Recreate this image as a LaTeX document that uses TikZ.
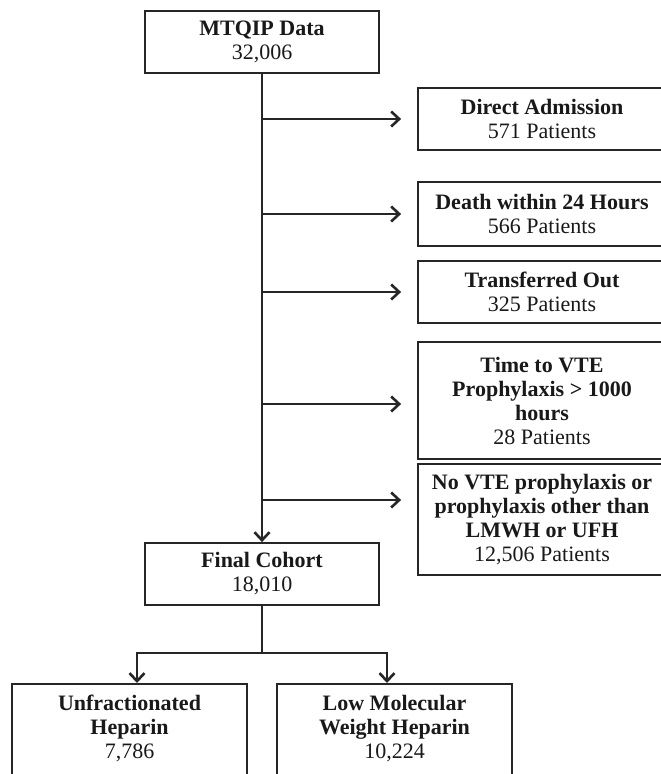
\documentclass[tikz,border=0pt]{standalone}
\usepackage{fontspec}
\setmainfont{Liberation Serif}
\usetikzlibrary{arrows.meta}
\begin{document}
\begin{tikzpicture}[x=1pt,y=-1pt,
  box/.style={draw=black!85, line width=1.8pt, align=center, text=black!90,
    font=\fontsize{22}{24}\selectfont, inner sep=0pt},
  conn/.style={line width=1.8pt, draw=black!85},
  arr/.style={conn, -{Straight Barb[length=8pt,width=15pt,line width=2.6pt]}},
  sidearr/.style={arr, shorten >=16pt}]
\fill[white] (0,0) rectangle (661,774);
\clip (0,0) rectangle (661,774);

\node[box, minimum width=234pt, minimum height=62pt] (mtqip) at (262,42)
  {\textbf{MTQIP Data}\\32,006};

\node[box, minimum width=248pt, minimum height=62pt] (da) at (542,119)
  {\textbf{Direct Admission}\\571 Patients};
\node[box, minimum width=248pt, minimum height=64pt] (death) at (542,214)
  {\textbf{Death within 24 Hours}\\566 Patients};
\node[box, minimum width=248pt, minimum height=62pt] (trans) at (542,292)
  {\textbf{Transferred Out}\\325 Patients};
\node[box, minimum width=248pt, minimum height=117pt] (time) at (542,400.5)
  {\textbf{Time to VTE}\\\textbf{Prophylaxis > 1000}\\\textbf{hours}\\28 Patients};
\node[box, minimum width=248pt, minimum height=111pt] (novte) at (542,519.5)
  {\textbf{No VTE prophylaxis or}\\\textbf{prophylaxis other than}\\\textbf{LMWH or UFH}\\12,506 Patients};

\node[box, minimum width=234pt, minimum height=62pt] (final) at (262,574)
  {\textbf{Final Cohort}\\18,010};

\node[box, minimum width=235pt, anchor=north, inner ysep=12pt, text height=63pt, text depth=100pt] (ufh) at (129.5,683)
  {\textbf{Unfractionated}\\\textbf{Heparin}\\7,786};
\node[box, minimum width=235pt, anchor=north, inner ysep=12pt, text height=63pt, text depth=100pt] (lmwh) at (394.5,683)
  {\textbf{Low Molecular}\\\textbf{Weight Heparin}\\10,224};

\draw[arr] (mtqip.south) -- (final.north);
\draw[sidearr] (mtqip.south |- da.west) -- (da.west);
\draw[sidearr] (mtqip.south |- death.west) -- (death.west);
\draw[sidearr] (mtqip.south |- trans.west) -- (trans.west);
\coordinate (tv) at ([yshift=-3.5pt]time.west);
\draw[sidearr] (mtqip.south |- tv) -- (tv);
\coordinate (nv) at ([yshift=19.5pt]novte.west);
\draw[sidearr] (mtqip.south |- nv) -- (nv);

\draw[conn] (final.south) -- ++(0,47) coordinate (br);
\coordinate (ut) at ([xshift=7.5pt]ufh.north);
\coordinate (lt) at ([xshift=-7.5pt]lmwh.north);
\draw[arr] (br) -| (ut);
\draw[arr] (br) -| (lt);
\end{tikzpicture}
\end{document}
